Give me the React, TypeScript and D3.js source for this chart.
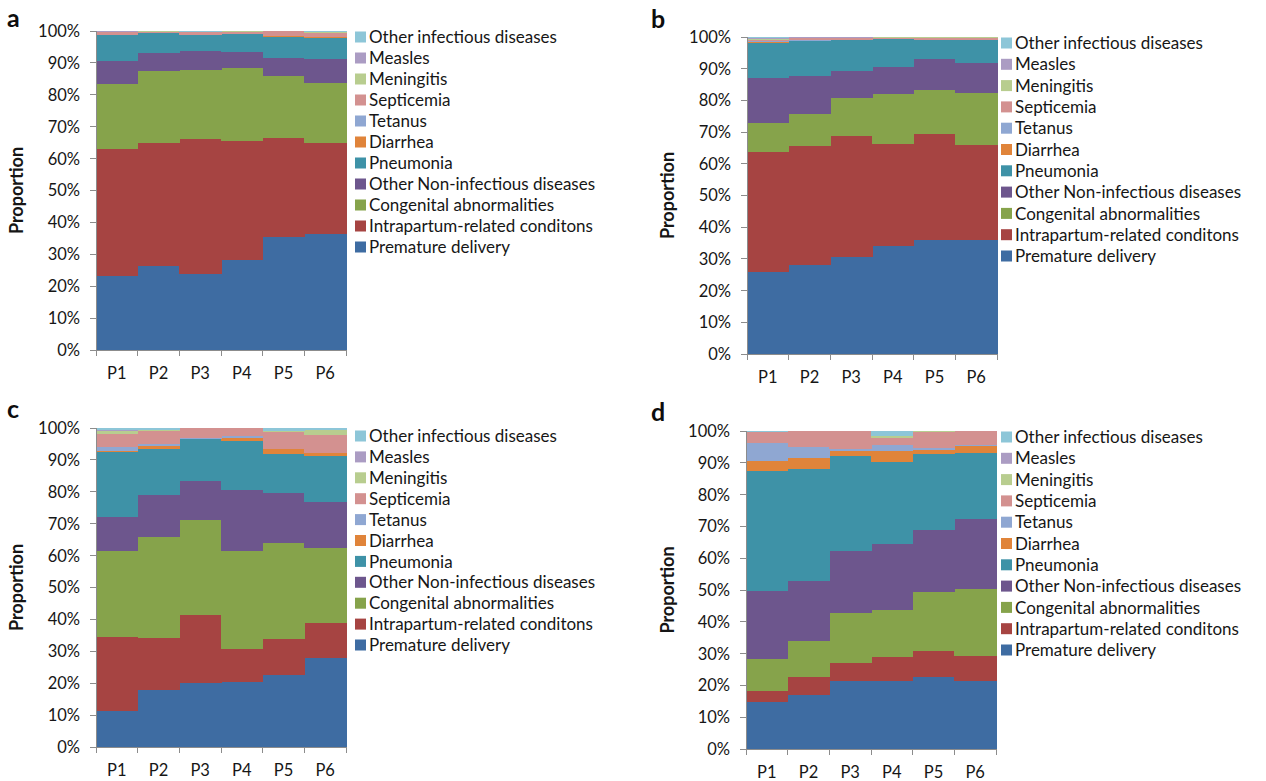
import React from "react";
import * as d3 from "d3";

const categories = ["P1", "P2", "P3", "P4", "P5", "P6"];

const seriesNames = [
  "Premature delivery",
  "Intrapartum-related conditons",
  "Congenital abnormalities",
  "Other Non-infectious diseases",
  "Pneumonia",
  "Diarrhea",
  "Tetanus",
  "Septicemia",
  "Meningitis",
  "Measles",
  "Other infectious diseases",
];

const seriesColors = [
  "#3e6ca2",
  "#a64442",
  "#86a34b",
  "#6d568d",
  "#3e92a7",
  "#e0843a",
  "#8fa7d2",
  "#d39190",
  "#b8cd8f",
  "#ab9cc3",
  "#8dc6d8",
];

const yTicks = [0, 0.1, 0.2, 0.3, 0.4, 0.5, 0.6, 0.7, 0.8, 0.9, 1.0];

// values in series order (rows) x categories (columns), percent
const panelAValues = [
  [23.2, 26.4, 23.7, 28.2, 35.5, 36.4],
  [39.8, 38.6, 42.3, 37.3, 30.9, 28.6],
  [20.3, 22.6, 21.8, 22.8, 19.5, 18.6],
  [7.2, 5.4, 6.0, 5.2, 5.7, 7.5],
  [8.3, 6.3, 4.8, 5.6, 6.6, 6.8],
  [0.1, 0.1, 0.1, 0.1, 0.1, 0.1],
  [0, 0, 0, 0, 0, 0],
  [0.7, 0.4, 1.0, 0.6, 1.6, 1.5],
  [0.2, 0.1, 0.1, 0.1, 0.1, 0.1],
  [0.1, 0, 0, 0, 0, 0],
  [0.1, 0.1, 0.2, 0.1, 0.0, 0.4],
];

const panelBValues = [
  [26.0, 28.1, 30.5, 34.1, 36.0, 36.0],
  [37.6, 37.6, 38.3, 32.1, 33.3, 29.9],
  [9.4, 10.0, 12.1, 16.0, 14.0, 16.5],
  [14.2, 12.0, 8.5, 8.4, 9.7, 9.3],
  [10.8, 11.0, 9.7, 8.8, 6.1, 7.4],
  [0.3, 0.1, 0.1, 0.1, 0.1, 0.1],
  [0.3, 0.1, 0, 0, 0, 0],
  [0.6, 0.7, 0.5, 0.4, 0.6, 0.6],
  [0.1, 0.1, 0.1, 0.1, 0.1, 0.1],
  [0.5, 0.2, 0.1, 0, 0, 0],
  [0.2, 0.1, 0.1, 0.1, 0.1, 0.1],
];

const panelCValues = [
  [11.4, 17.9, 20.2, 20.5, 22.6, 27.8],
  [23.0, 16.2, 21.2, 10.1, 11.3, 11.0],
  [27.0, 31.8, 29.8, 30.8, 30.0, 23.8],
  [10.5, 13.3, 12.2, 19.2, 15.9, 14.3],
  [20.6, 14.3, 13.1, 15.2, 12.1, 14.5],
  [0.1, 0.9, 0.1, 1.1, 1.6, 0.9],
  [1.2, 0.7, 0.4, 0.6, 0.1, 0.1],
  [4.3, 4.2, 3.0, 2.4, 5.4, 5.6],
  [1.0, 0.1, 0.1, 0.1, 0.1, 1.4],
  [0.3, 0.1, 0, 0, 0, 0],
  [0.5, 0.6, 0, 0, 1.0, 0.7],
];

const panelDValues = [
  [14.9, 17.0, 21.4, 21.4, 22.7, 21.5],
  [3.4, 5.5, 5.5, 7.4, 8.1, 7.7],
  [10.0, 11.5, 16.0, 14.9, 18.7, 21.3],
  [21.4, 18.8, 19.4, 20.8, 19.4, 22.0],
  [37.7, 35.1, 29.8, 25.8, 23.8, 20.7],
  [3.2, 3.5, 1.6, 3.4, 1.3, 2.3],
  [5.5, 3.7, 0.7, 1.8, 0.8, 0.1],
  [3.6, 4.9, 5.6, 2.4, 4.9, 4.5],
  [0.1, 0, 0, 0.5, 0.3, 0],
  [0, 0, 0, 0, 0, 0],
  [0.2, 0, 0, 1.6, 0, 0],
];

const FONT = "Lato, 'Open Sans', sans-serif";
const TEXT = "#161616";
const AXIS = "#8c8c8c";

type Layout = {
  letter: string;
  x0: number;
  x1: number;
  yTop: number;
  yBot: number;
  letterX: number;
  letterY: number;
  titleX: number;
  legX: number;
  legY0: number;
  legStep: number;
};

const layouts: Layout[] = [
  { letter: "a", x0: 96, x1: 346, yTop: 31, yBot: 350, letterX: 7, letterY: 27, titleX: 17, legX: 355, legY0: 37, legStep: 21 },
  { letter: "b", x0: 747, x1: 997, yTop: 37, yBot: 354, letterX: 651, letterY: 28, titleX: 668, legX: 1001, legY0: 43, legStep: 21.3 },
  { letter: "c", x0: 96, x1: 346, yTop: 428, yBot: 747, letterX: 7, letterY: 418, titleX: 17, legX: 355, legY0: 436, legStep: 20.9 },
  { letter: "d", x0: 746, x1: 996, yTop: 431, yBot: 749, letterX: 651, letterY: 421, titleX: 668, legX: 1001, legY0: 437, legStep: 21.3 },
];

function Panel({ layout, values }: { layout: Layout; values: number[][] }) {
  const x = d3.scaleBand<string>().domain(categories).range([layout.x0, layout.x1]).paddingInner(0).paddingOuter(0);
  const y = d3.scaleLinear().domain([0, 1]).range([layout.yBot, layout.yTop]);

  const rows = categories.map((c, ci) => {
    const r: Record<string, number | string> = { cat: c };
    seriesNames.forEach((s, si) => (r[s] = values[si][ci]));
    return r;
  });
  const stack = d3
    .stack<Record<string, number | string>>()
    .keys(seriesNames)
    .value((d, k) => d[k] as number)
    .offset(d3.stackOffsetExpand);
  const stacked = stack(rows);

  const boundaries = categories.map((c) => x(c) as number).concat([layout.x1]);

  return (
    <g>
      <text x={layout.letterX} y={layout.letterY} fontFamily={FONT} fontWeight="bold" fontSize={25} fill="#0d0d0d">
        {layout.letter}
      </text>
      <g shapeRendering="crispEdges">
        {stacked.map((series, si) =>
          series.map((d, ci) => {
            const top = y(d[1]);
            const bot = y(d[0]);
            const h = bot - top;
            if (h <= 0) return null;
            return (
              <rect
                key={si + "-" + ci}
                x={x(categories[ci])}
                y={top}
                width={x.bandwidth() + 0.5}
                height={h}
                fill={seriesColors[si]}
              />
            );
          })
        )}
      </g>
      {/* y axis */}
      <g shapeRendering="crispEdges">
        <line x1={layout.x0} x2={layout.x0} y1={layout.yTop} y2={layout.yBot} stroke={AXIS} strokeWidth={1} />
        {yTicks.map((t) => (
          <line key={t} x1={layout.x0 - 6} x2={layout.x0} y1={y(t)} y2={y(t)} stroke={AXIS} strokeWidth={1} />
        ))}
        <line x1={layout.x0} x2={layout.x1} y1={layout.yBot} y2={layout.yBot} stroke={AXIS} strokeWidth={1} />
        {boundaries.map((bx, i) => (
          <line key={i} x1={bx} x2={bx} y1={layout.yBot} y2={layout.yBot + 6} stroke={AXIS} strokeWidth={1} />
        ))}
      </g>
      {yTicks.map((t) => (
        <text
          key={t}
          x={layout.x0 - 16}
          y={y(t)}
          dy="0.36em"
          textAnchor="end"
          fontFamily={FONT}
          fontSize={16.5}
          fill={TEXT}
        >
          {d3.format(".0%")(t)}
        </text>
      ))}
      {categories.map((c) => (
        <text
          key={c}
          x={(x(c) as number) + x.bandwidth() / 2}
          y={layout.yBot + 29}
          textAnchor="middle"
          fontFamily={FONT}
          fontSize={16.5}
          fill={TEXT}
        >
          {c}
        </text>
      ))}
      <text
        transform={`translate(${layout.titleX},${(layout.yTop + layout.yBot) / 2}) rotate(-90)`}
        textAnchor="middle"
        dy="0.36em"
        fontFamily={FONT}
        fontWeight="bold"
        fontSize={18}
        fill={TEXT}
      >
        Proportion
      </text>
      {/* legend */}
      {seriesNames
        .map((s, i) => ({ s, i }))
        .reverse()
        .map(({ s, i }, row) => {
          const cy = layout.legY0 + row * layout.legStep;
          return (
            <g key={s}>
              <rect x={layout.legX} y={cy - 5.5} width={11} height={11} fill={seriesColors[i]} />
              <text x={layout.legX + 14} y={cy} dy="0.36em" fontFamily={FONT} fontSize={17} fill={TEXT}>
                {s}
              </text>
            </g>
          );
        })}
    </g>
  );
}

export default function App() {
  const panelValues = [panelAValues, panelBValues, panelCValues, panelDValues];
  return (
    <svg width={1266} height={781} style={{ position: "absolute", left: 0, top: 0, background: "#fff" }}>
      <rect width={1266} height={781} fill="#fff" />
      {layouts.map((l, i) => (
        <Panel key={l.letter} layout={l} values={panelValues[i]} />
      ))}
    </svg>
  );
}
